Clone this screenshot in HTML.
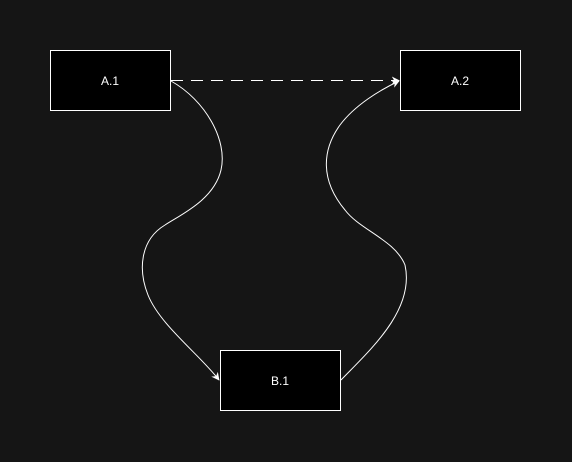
<!DOCTYPE html>
<html><head><meta charset="utf-8"><style>
html,body{margin:0;padding:0;background:#151515;}
svg{display:block;}
text{font-family:"Liberation Sans",sans-serif;font-size:12px;fill:#fff;}
</style></head><body>
<svg width="572" height="462" viewBox="0 0 572 462">
<defs>
<marker id="ar" viewBox="0 0 10 10" refX="9" refY="5" markerWidth="8" markerHeight="8" orient="auto" markerUnits="userSpaceOnUse">
<path d="M0,0 L10,5 L0,10 L3,5 Z" fill="#fff"/>
</marker>
</defs>
<rect width="572" height="462" fill="#151515"/>
<path d="M171,80.5 L399,80.5" stroke="#fff" stroke-width="1" stroke-dasharray="12,8" fill="none" marker-end="url(#ar)"/>
<path d="M171,81 C205,100 228,140 221,170 C214,200 180,215 165,225 C140,240 138,270 148,295 C160,325 200,355 219,380" stroke="#fff" stroke-width="1" fill="none" marker-end="url(#ar)"/>
<path d="M341,380 C370,350 415,310 405,265 C395,240 360,230 345,210 C320,180 322,150 340,125 C355,105 380,90 399,81" stroke="#fff" stroke-width="1" fill="none" marker-end="url(#ar)"/>
<g>
<rect x="50.5" y="50.5" width="120" height="60" fill="#000" stroke="#fff" stroke-width="1"/>
<text x="110" y="85" text-anchor="middle">A.1</text>
</g>
<g>
<rect x="400.5" y="50.5" width="120" height="60" fill="#000" stroke="#fff" stroke-width="1"/>
<text x="460" y="85" text-anchor="middle">A.2</text>
</g>
<g>
<rect x="220.5" y="350.5" width="120" height="60" fill="#000" stroke="#fff" stroke-width="1"/>
<text x="280" y="385" text-anchor="middle">B.1</text>
</g>
</svg>
</body></html>
